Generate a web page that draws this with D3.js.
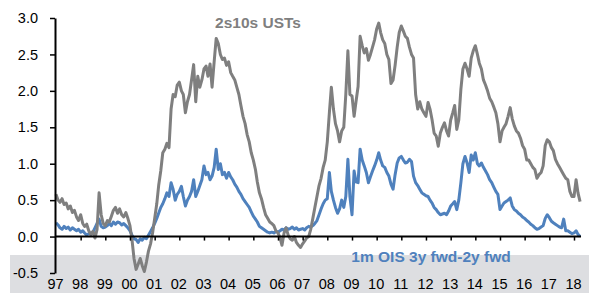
<!DOCTYPE html>
<html>
<head>
<meta charset="utf-8">
<script src="https://cdn.jsdelivr.net/npm/d3@7"></script>
<style>
  body { margin: 0; background: #fff; }
  svg { display: block; font-family: "Liberation Sans", Arial, sans-serif; }
</style>
</head>
<body>
<svg id="chart" width="589" height="293"></svg>
<script>
// monthly readings, Jan 1997 .. Apr 2018
const firstMonth = new Date(1997, 0, 1);
const lastMonth = new Date(2018, 4, 1);

const ust2s10s = [
  0.58, 0.50, 0.47, 0.52, 0.44, 0.46, 0.38, 0.42, 0.33, 0.36, 0.27, 0.22, // 97
  0.30, 0.18, 0.14, 0.17, 0.08, 0.03, 0.07, -0.02, 0.10, 0.60, 0.30, 0.18, // 98
  0.15, 0.22, 0.20, 0.28, 0.36, 0.40, 0.32, 0.38, 0.30, 0.27, 0.33, 0.25, // 99
  0.15, -0.05, -0.30, -0.45, -0.38, -0.30, -0.40, -0.48, -0.35, -0.20, -0.10, 0.05, // 00
  0.25, 0.45, 0.70, 0.90, 1.15, 1.20, 1.28, 1.22, 1.75, 1.95, 1.92, 2.08, // 01
  2.12, 2.00, 1.95, 1.70, 1.85, 1.95, 2.15, 2.36, 1.85, 2.20, 2.05, 2.15, // 02
  2.30, 2.34, 2.20, 2.37, 2.05, 2.40, 2.72, 2.65, 2.50, 2.43, 2.45, 2.35, // 03
  2.40, 2.25, 2.20, 2.15, 2.05, 1.95, 1.80, 1.65, 1.55, 1.40, 1.30, 1.15, // 04
  1.05, 0.92, 0.75, 0.60, 0.52, 0.40, 0.30, 0.25, 0.20, 0.18, 0.15, 0.08, // 05
  0.05, -0.02, -0.12, 0.05, 0.12, 0.02, -0.03, -0.05, 0.00, -0.08, -0.12, -0.15, // 06
  -0.10, -0.06, -0.02, 0.00, 0.10, 0.25, 0.40, 0.55, 0.70, 0.80, 0.95, 1.05, // 07
  1.30, 1.70, 2.05, 1.75, 1.55, 1.45, 1.30, 1.45, 1.50, 1.95, 2.55, 1.95, // 08
  1.93, 1.65, 1.85, 2.06, 2.75, 2.62, 2.52, 2.58, 2.42, 2.50, 2.60, 2.70, // 09
  2.85, 2.93, 2.80, 2.70, 2.65, 2.50, 2.43, 2.10, 2.15, 2.35, 2.60, 2.80, // 10
  2.89, 2.82, 2.75, 2.72, 2.60, 2.50, 2.45, 1.95, 1.75, 1.85, 1.75, 1.70, // 11
  1.65, 1.84, 1.75, 1.60, 1.42, 1.38, 1.24, 1.42, 1.50, 1.56, 1.45, 1.38, // 12
  1.60, 1.70, 1.80, 1.47, 1.60, 2.02, 2.30, 2.38, 2.30, 2.20, 2.45, 2.55, // 13
  2.62, 2.50, 2.38, 2.30, 2.15, 2.08, 2.00, 1.90, 1.85, 1.78, 1.70, 1.55, // 14
  1.30, 1.45, 1.50, 1.55, 1.65, 1.77, 1.62, 1.52, 1.45, 1.42, 1.35, 1.25, // 15
  1.20, 1.05, 1.05, 1.00, 0.95, 0.92, 0.80, 0.85, 0.88, 0.97, 1.25, 1.33, // 16
  1.30, 1.22, 1.18, 1.06, 1.00, 0.95, 0.90, 0.85, 0.80, 0.78, 0.62, 0.55, // 17
  0.55, 0.78, 0.60, 0.48 // 18
];

const ois3y2y = [
  0.19, 0.16, 0.12, 0.10, 0.14, 0.11, 0.13, 0.09, 0.12, 0.10, 0.08, 0.10, // 97
  0.06, 0.08, 0.05, 0.02, 0.04, 0.03, 0.06, 0.12, 0.18, 0.24, 0.14, 0.12, // 98
  0.13, 0.15, 0.18, 0.15, 0.20, 0.17, 0.20, 0.19, 0.16, 0.18, 0.15, 0.12, // 99
  0.08, 0.02, -0.03, -0.04, -0.08, -0.03, -0.05, -0.01, -0.03, 0.02, 0.07, 0.12, // 00
  0.18, 0.25, 0.32, 0.40, 0.45, 0.52, 0.60, 0.55, 0.74, 0.65, 0.50, 0.58, // 01
  0.62, 0.69, 0.55, 0.42, 0.50, 0.55, 0.62, 0.78, 0.55, 0.62, 0.70, 0.78, // 02
  0.97, 0.85, 0.88, 0.78, 0.83, 0.95, 1.20, 0.92, 1.00, 0.85, 0.88, 0.80, // 03
  0.88, 0.82, 0.78, 0.72, 0.68, 0.62, 0.58, 0.52, 0.48, 0.44, 0.40, 0.34, // 04
  0.28, 0.24, 0.20, 0.14, 0.12, 0.10, 0.08, 0.06, 0.05, 0.06, 0.05, 0.07, // 05
  0.06, 0.08, 0.10, 0.09, 0.12, 0.10, 0.11, 0.13, 0.10, 0.12, 0.09, 0.10, // 06
  0.11, 0.09, 0.12, 0.14, 0.13, 0.15, 0.18, 0.22, 0.30, 0.38, 0.45, 0.50, // 07
  0.52, 0.88, 0.62, 0.50, 0.40, 0.32, 0.38, 0.50, 0.40, 0.55, 1.06, 0.55, // 08
  0.30, 0.90, 0.75, 0.74, 1.20, 1.05, 0.97, 0.88, 0.74, 0.82, 0.90, 0.97, // 09
  1.05, 1.15, 1.05, 0.97, 0.95, 0.88, 0.83, 0.72, 0.65, 0.85, 1.01, 1.08, // 10
  1.10, 1.05, 1.01, 1.02, 1.06, 1.03, 0.83, 0.74, 0.70, 0.65, 0.60, 0.58, // 11
  0.56, 0.55, 0.50, 0.46, 0.40, 0.37, 0.33, 0.30, 0.31, 0.32, 0.30, 0.35, // 12
  0.42, 0.45, 0.48, 0.37, 0.50, 0.74, 1.00, 1.10, 1.01, 0.88, 1.12, 1.05, // 13
  1.15, 1.00, 0.97, 1.01, 0.95, 0.90, 0.85, 0.78, 0.74, 0.68, 0.62, 0.58, // 14
  0.37, 0.42, 0.46, 0.48, 0.50, 0.53, 0.42, 0.37, 0.35, 0.32, 0.30, 0.27, // 15
  0.25, 0.22, 0.20, 0.17, 0.15, 0.12, 0.10, 0.11, 0.13, 0.15, 0.25, 0.30, // 16
  0.26, 0.21, 0.19, 0.17, 0.15, 0.13, 0.12, 0.24, 0.08, 0.08, 0.06, 0.04, // 17
  0.05, 0.08, 0.03, 0.00 // 18
];

const yTicks = [-0.5, 0.0, 0.5, 1.0, 1.5, 2.0, 2.5, 3.0];
const yearTicks = d3.range(1997, 2019);
const seriesNames = ['2s10s USTs', '1m OIS 3y fwd-2y fwd'];

const cs = {
  pallette: {
    gray: '#7f7f7f',
    blue: '#4f81bd',
    band: '#dddee1',
    axis: '#000',
  },
  x: { left: 56, right: 574 },
  y: { top: 18, bottom: 273 },
  lineWidth: 3,
};

const svg = d3.select('#chart');
const dates = d3.timeMonth.range(firstMonth, lastMonth);

cs.x.scale = d3.scaleTime()
  .domain([new Date(1997, 0, 1), new Date(2018, 0, 1)])
  .range([cs.x.left, cs.x.right]);
cs.y.scale = d3.scaleLinear()
  .domain([-0.5, 3.0])
  .range([cs.y.bottom, cs.y.top]);

// grey footer band
svg.append('rect')
  .attr('x', 10).attr('y', 255)
  .attr('width', 579).attr('height', 38)
  .attr('fill', cs.pallette.band);

const line = d3.line()
  .x((d, i) => cs.x.scale(dates[i]))
  .y(d => cs.y.scale(d));

svg.append('path')
  .datum(ois3y2y)
  .attr('fill', 'none')
  .attr('stroke', cs.pallette.blue)
  .attr('stroke-width', cs.lineWidth)
  .attr('stroke-linejoin', 'round')
  .attr('d', line);

svg.append('path')
  .datum(ust2s10s)
  .attr('fill', 'none')
  .attr('stroke', cs.pallette.gray)
  .attr('stroke-width', cs.lineWidth)
  .attr('stroke-linejoin', 'round')
  .attr('d', line);

// y axis
const yAxis = d3.axisLeft(cs.y.scale)
  .tickValues(yTicks)
  .tickSize(5)
  .tickSizeOuter(0)
  .tickPadding(12);
const gy = svg.append('g')
  .attr('transform', `translate(${cs.x.left - 1},0)`)
  .call(yAxis);
gy.select('.domain').attr('stroke-width', 2);
gy.selectAll('line').attr('stroke-width', 1.5);
gy.selectAll('text')
  .attr('font-size', 14.5)
  .attr('fill', '#000')
  .text(d => (d < 0 ? '-' : '') + d3.format('.1f')(Math.abs(d)));

// x axis on the zero line, ticks only
const yearDate = y => new Date(y, 0, 1);
const xAxis = d3.axisBottom(cs.x.scale)
  .tickValues(yearTicks.slice(1).map(yearDate))
  .tickSize(4)
  .tickSizeOuter(0)
  .tickFormat('');
const gx = svg.append('g')
  .attr('transform', `translate(0,${cs.y.scale(0)})`)
  .call(xAxis);
gx.select('.domain')
  .attr('d', `M${cs.x.left - 1},0H${cs.x.scale(new Date(2018, 3, 15))}`)
  .attr('stroke-width', 2);
gx.selectAll('line').attr('stroke-width', 1.5);

// year labels at the bottom
const labelAxis = d3.axisBottom(cs.x.scale)
  .tickValues(yearTicks.map(yearDate))
  .tickSize(0)
  .tickPadding(0)
  .tickFormat(d3.timeFormat('%y'));
const gl = svg.append('g')
  .attr('transform', 'translate(-1,279)')
  .call(labelAxis);
gl.select('.domain').remove();
gl.selectAll('text').attr('font-size', 14.5).attr('fill', '#000');

// series labels
svg.append('text')
  .attr('x', 258).attr('y', 28)
  .attr('text-anchor', 'middle')
  .attr('font-size', 15.5)
  .attr('font-weight', 'bold')
  .attr('fill', cs.pallette.gray)
  .text(seriesNames[0]);

svg.append('text')
  .attr('x', 431).attr('y', 262)
  .attr('text-anchor', 'middle')
  .attr('font-size', 15.5)
  .attr('font-weight', 'bold')
  .attr('fill', cs.pallette.blue)
  .text(seriesNames[1]);
</script>
</body>
</html>
